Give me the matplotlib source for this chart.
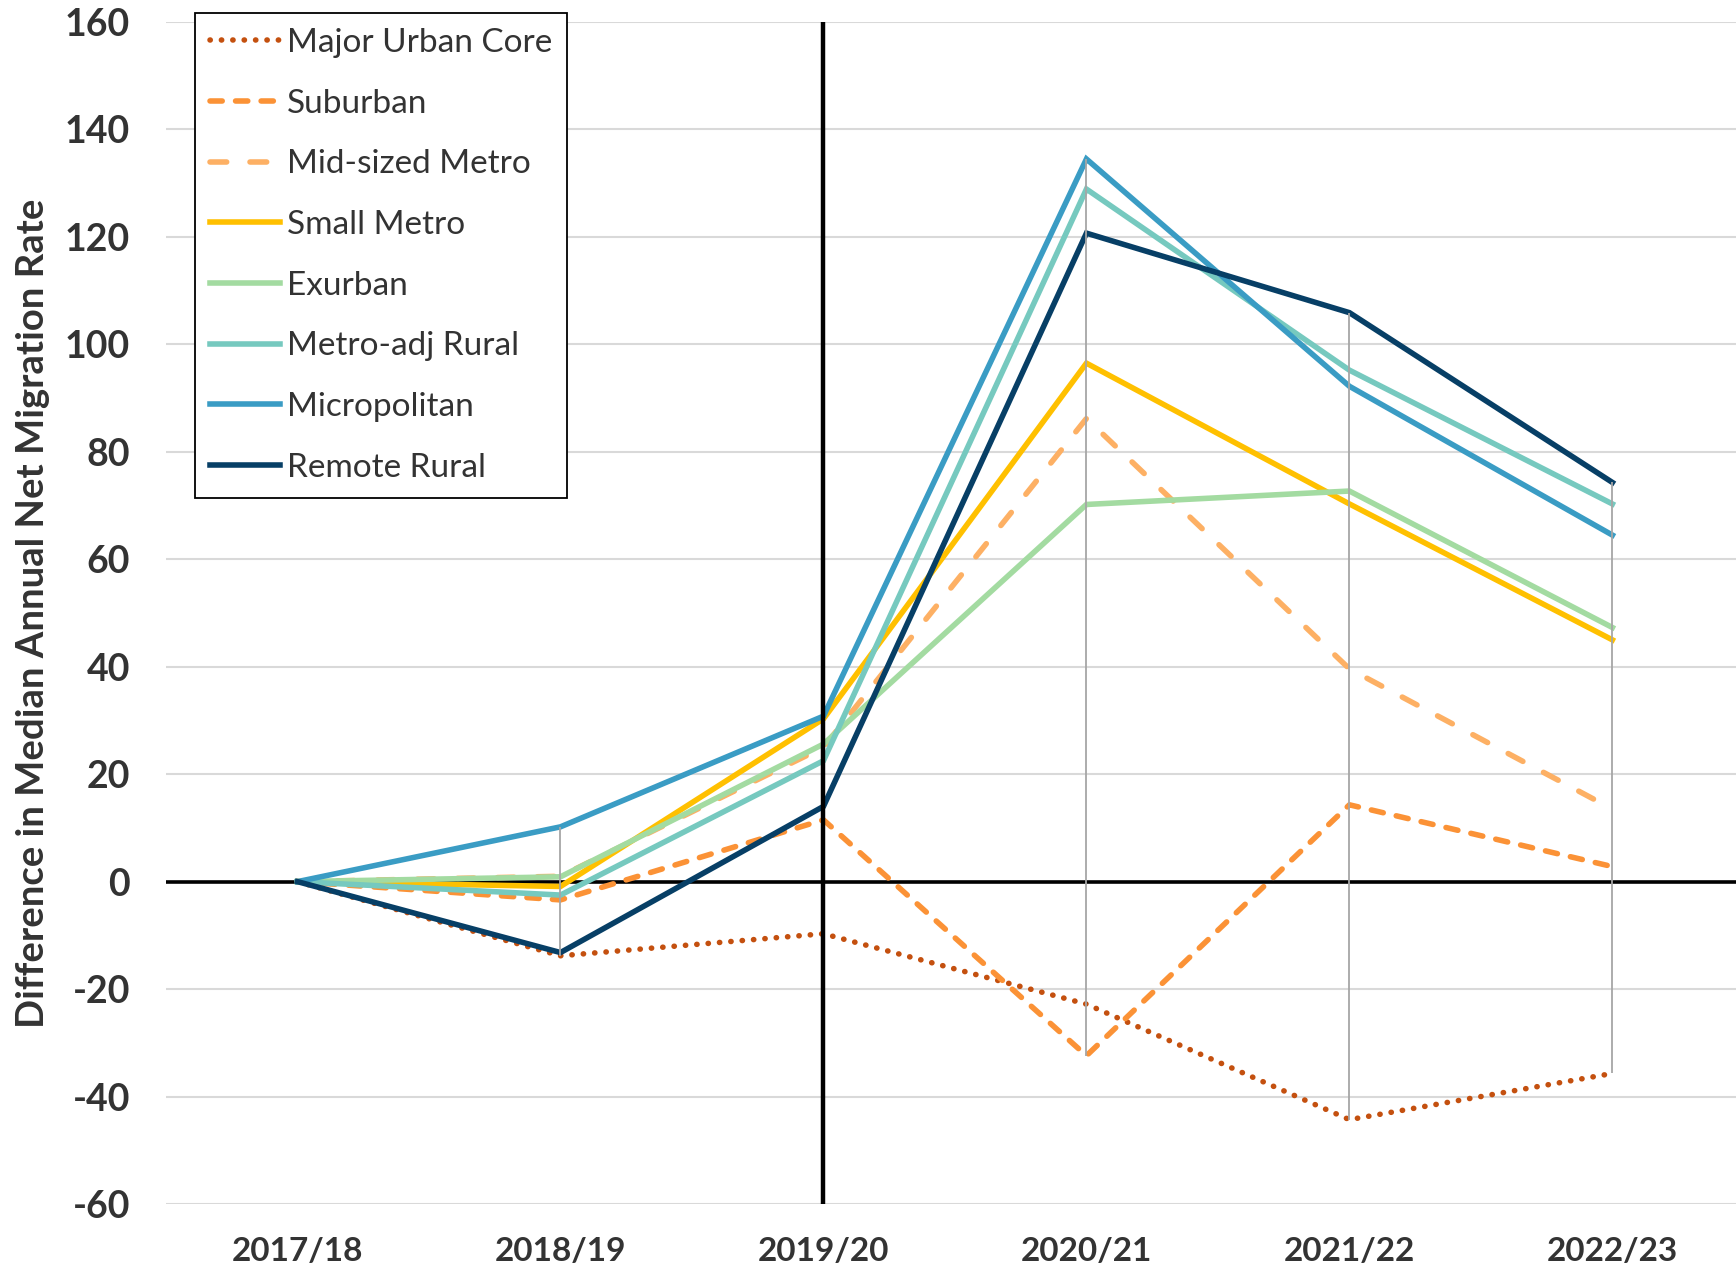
import numpy as np
import matplotlib
matplotlib.use("Agg")
import matplotlib.pyplot as plt

# data
years = ['2017/18', '2018/19', '2019/20', '2020/21', '2021/22', '2022/23']

major_urban = [0, -13.8, -9.7, -22.8, -44.3, -35.7]
suburban = [0, -3.4, 11.5, -32.4, 14.3, 2.8]
mid_metro = [0, 1.0, 25.0, 86.2, 39.6, 13.5]
small_metro = [0, -0.9, 30.3, 96.5, 70.3, 45.0]
exurban = [0, 0.9, 25.6, 70.2, 72.7, 47.3]
metro_adj = [0, -2.5, 22.5, 128.9, 95.2, 70.3]
micropolitan = [0, 10.2, 30.8, 134.5, 92.2, 64.5]
remote_rural = [0, -13.2, 14.0, 120.7, 105.9, 74.3]

names = ['Major Urban Core', 'Suburban', 'Mid-sized Metro', 'Small Metro',
         'Exurban', 'Metro-adj Rural', 'Micropolitan', 'Remote Rural']
series = [major_urban, suburban, mid_metro, small_metro,
          exurban, metro_adj, micropolitan, remote_rural]
colors = ['#C4500F', '#FB9236', '#FDB064', '#FFC000',
          '#A3DBA1', '#76C9BF', '#3A9CC4', '#073F66']
styles = [(0, (0.05, 2.0)), (0, (2.2, 2.4)), (0, (3.0, 4.2)),
          '-', '-', '-', '-', '-']

plt.rcParams['font.family'] = ['Lato', 'DejaVu Sans']
plt.rcParams['axes.unicode_minus'] = False
txt = '#333333'

fig = plt.figure(figsize=(17.36, 12.70), dpi=100)
ax = fig.add_axes([166 / 1736, 1 - 1204 / 1270, 1 - 166 / 1736, (1204 - 22) / 1270])

x = np.arange(len(years))
lw = 4.0
for vals, name, c, ls in zip(series, names, colors, styles):
    cap = 'round' if ls != '-' else 'butt'
    ax.plot(x, vals, color=c, lw=lw, linestyle=ls, label=name,
            dash_capstyle=cap, solid_joinstyle='miter', zorder=3)

# high-low lines at each year (except the black marker year)
data = np.array(series)
for i in x:
    if i in (0, 2):
        continue
    ax.vlines(i, data[:, i].min(), data[:, i].max(), color='#A6A6A6', lw=1.3, zorder=4)

ax.axhline(0, color='black', lw=2.6, zorder=2)
ax.axvline(2, color='black', lw=3.2, zorder=5)

ax.set_ylim(-60, 160)
ax.set_xlim(-0.5, 5.47)
ax.set_yticks(np.arange(-60, 161, 20))
ax.set_xticks(x)
ax.set_xticklabels(years)
ax.grid(axis='y', color='#D9D9D9', lw=1.5, zorder=0)
ax.set_axisbelow(True)
for s in ax.spines.values():
    s.set_visible(False)
ax.tick_params(length=0, labelsize=24, labelcolor=txt)
ax.tick_params(axis='y', pad=26, labelsize=27)
ax.tick_params(axis='x', pad=24)
for lab in ax.get_xticklabels() + ax.get_yticklabels():
    lab.set_fontweight('bold')
ax.set_ylabel('Difference in Median Annual Net Migration Rate', fontsize=27.5,
              fontweight='bold', color=txt)
ax.yaxis.set_label_coords(-0.074, 0.5)

leg = ax.legend(loc='upper left', bbox_to_anchor=(195 / 1736, 1 - 13 / 1270),
                bbox_transform=fig.transFigure, borderaxespad=0, fontsize=24,
                handlelength=2.1, handletextpad=0.2, labelspacing=0.92,
                borderpad=0.45, fancybox=False, framealpha=1, edgecolor='black')
leg.get_frame().set_linewidth(1.3)
for t in leg.get_texts():
    t.set_color(txt)

fig.savefig('out.png', dpi=100)
